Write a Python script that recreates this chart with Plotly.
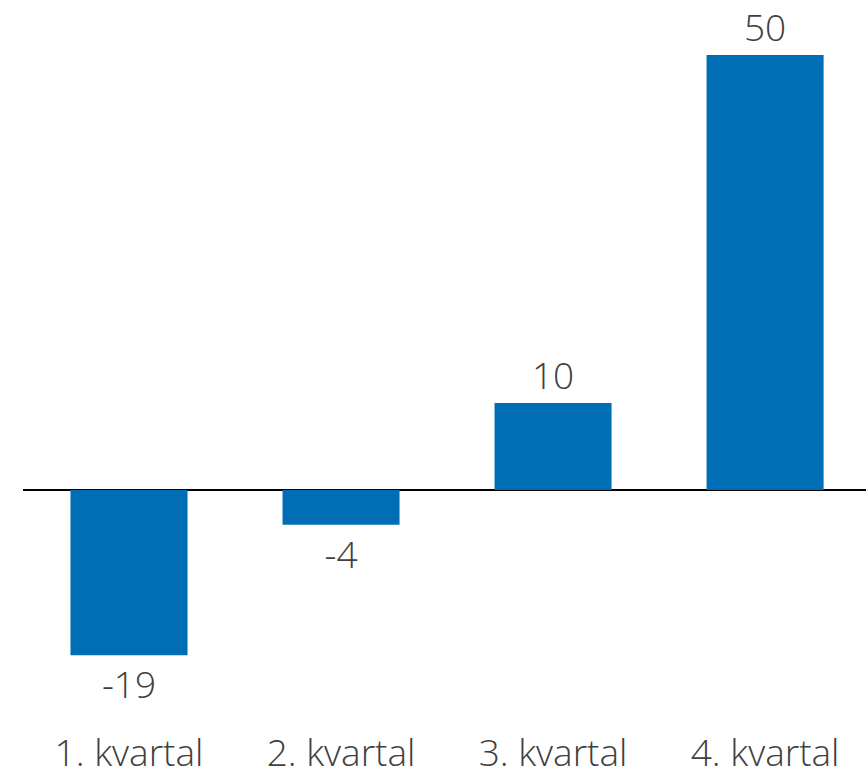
import plotly.graph_objects as go

categories = ["1. kvartal", "2. kvartal", "3. kvartal", "4. kvartal"]
values = [-19, -4, 10, 50]
labels = ["-19", "-4", "10", "50"]

FONT = dict(family="Open Sans", size=37, color="#404040", weight=300)

fig = go.Figure(go.Bar(
    x=categories, y=values, text=labels, textposition="outside",
    marker=dict(color="#006EB5", line=dict(width=0)),
    width=0.552, cliponaxis=False,
    textfont=FONT,
))

px_per_unit = 435 / 50
fig.update_layout(
    width=866, height=771,
    margin=dict(l=23, r=0, t=55, b=51, autoexpand=False),
    plot_bgcolor="white", paper_bgcolor="white",
    showlegend=False,
    font=FONT,
)
fig.update_xaxes(range=[-0.5, 3.476], showgrid=False, showline=False, ticks="",
                 tickfont=FONT, ticklabelstandoff=8, automargin=False)
fig.update_yaxes(range=[-(720 - 490) / px_per_unit, 50], showgrid=False, showticklabels=False,
                 zeroline=True, zerolinecolor="#000000", zerolinewidth=2, showline=False,
                 automargin=False)

fig.write_html(
    "out.html",
    config={"displayModeBar": False},
    post_script=(
        "document.body.style.margin='0';"
        "document.body.style.overflow='hidden';"
        "Plotly.relayout(document.getElementById('{plot_id}'), {width: 866, height: 771});"
    ),
)
